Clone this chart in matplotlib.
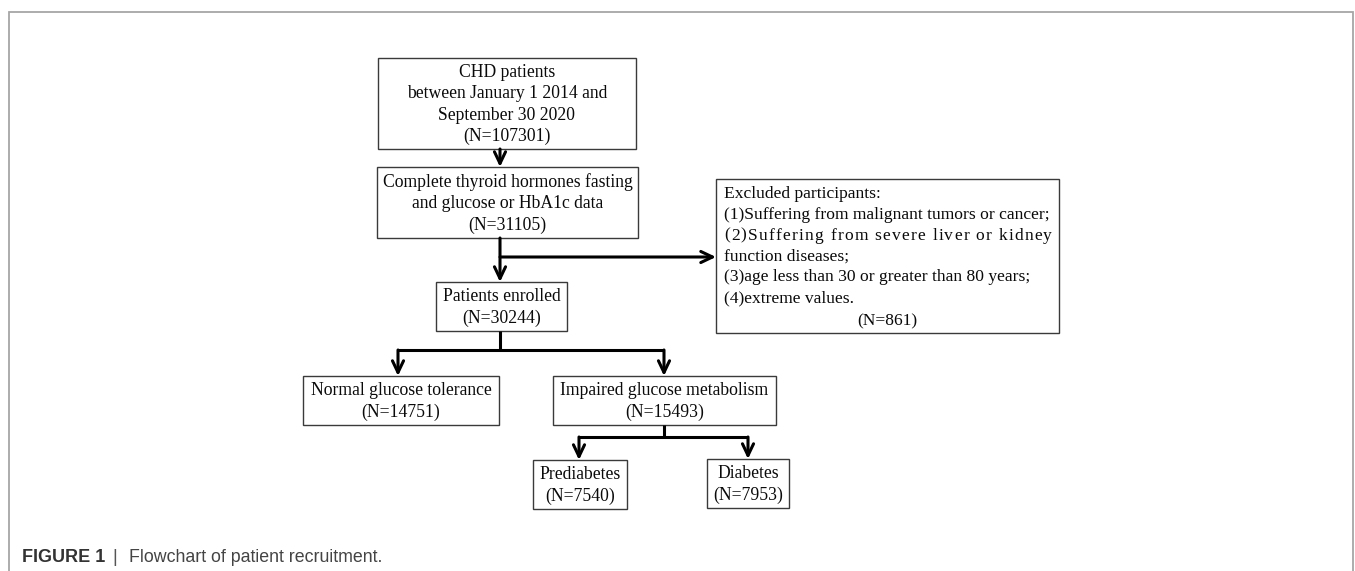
import matplotlib
matplotlib.use("Agg")
import matplotlib.pyplot as plt
from matplotlib.patches import Rectangle, FancyArrowPatch

W, H = 1355, 571

# flowchart content
box_labels = [
    ["CHD patients", "between January 1 2014 and", "September 30 2020"],
    ["Complete thyroid hormones fasting", "and glucose or HbA1c data"],
    ["Patients enrolled"],
    ["Normal glucose tolerance"],
    ["Impaired glucose metabolism"],
    ["Prediabetes"],
    ["Diabetes"],
]
box_counts = [107301, 31105, 30244, 14751, 15493, 7540, 7953]

excluded_lines = [
    "Excluded participants:",
    "(1)Suffering from malignant tumors or cancer;",
    "(2)Suffering from severe liver or kidney",
    "function diseases;",
    "(3)age less than 30 or greater than 80 years;",
    "(4)extreme values.",
]
excluded_count = 861

caption_bold = "FIGURE 1"
caption_text = "Flowchart of patient recruitment."

# layout in pixel coords: (left, top, right, bottom)
box_pos = [
    (378, 58, 636, 149),
    (377, 167, 638, 238),
    (436, 282, 567, 331),
    (303, 376, 499, 425),
    (553, 376, 776, 425),
    (533, 460, 627, 509),
    (707, 459, 789, 508),
]
excl_pos = (716, 179, 1059, 333)

serif = ["Liberation Serif", "DejaVu Serif"]
sans = ["Liberation Sans", "DejaVu Sans"]

fig = plt.figure(figsize=(W / 100, H / 100), dpi=100)
ax = fig.add_axes([0, 0, 1, 1])
ax.set_xlim(0, W)
ax.set_ylim(H, 0)
ax.axis("off")

# outer frame (left, top, right)
ax.plot([9, 9, 1353, 1353], [H, 12, 12, H], color="#a6a6a6", lw=1.3,
        solid_joinstyle="miter")


def draw_box(pos, lines, fs=12.7, spacing=21.5):
    l, t, r, b = pos
    ax.add_patch(Rectangle((l, t), r - l, b - t, fill=False,
                           edgecolor="#3a3a3a", lw=1.0))
    cx = (l + r) / 2
    cy = (t + b) / 2
    n = len(lines)
    for i, s in enumerate(lines):
        y = cy + (i - (n - 1) / 2) * spacing + 1
        ax.text(cx, y, s, ha="center", va="center", fontsize=fs,
                family=serif, color="#0a0a0a")


for pos, lab, cnt in zip(box_pos, box_labels, box_counts):
    draw_box(pos, lab + [f"(N={cnt})"])

# excluded box
l, t, r, b = excl_pos
ax.add_patch(Rectangle((l, t), r - l, b - t, fill=False,
                       edgecolor="#3a3a3a", lw=1.0))
fs_ex = 12.6
y0 = 194
step = 20.8
renderer = fig.canvas.get_renderer()


def text_width(s):
    t_ = ax.text(0, 0, s, fontsize=fs_ex, family=serif)
    w = t_.get_window_extent(renderer).width
    t_.remove()
    return w


for i, s in enumerate(excluded_lines):
    y = y0 + i * step
    if s.startswith("(2)"):
        # justified line: spread characters over the full width
        target = 1052 - 724
        natural = text_width(s)
        extra = (target - natural) / (len(s) - 1)
        wx = text_width("x")
        for k, ch in enumerate(s):
            if ch == " ":
                continue
            off = (text_width(s[:k] + "x") - wx) if k > 0 else 0
            ax.text(724 + off + k * extra, y, ch, ha="left", va="center",
                    fontsize=fs_ex, family=serif, color="#0a0a0a")
    else:
        ax.text(724, y, s, ha="left", va="center", fontsize=fs_ex,
                family=serif, color="#0a0a0a")
ax.text((l + r) / 2, y0 + len(excluded_lines) * step + 2.5,
        f"(N={excluded_count})", ha="center", va="center", fontsize=fs_ex,
        family=serif, color="#0a0a0a")

# connectors
lw = 2.2
col = "black"


def line(xs, ys):
    ax.plot(xs, ys, color=col, lw=lw, solid_capstyle="butt",
            solid_joinstyle="miter")


def arrow(x1, y1, x2, y2):
    ax.add_patch(FancyArrowPatch((x1, y1), (x2, y2),
                                 arrowstyle="->,head_length=0.42,head_width=0.2",
                                 mutation_scale=20, color=col, lw=lw,
                                 shrinkA=0, shrinkB=0))


arrow(500, 149, 500, 167)
arrow(500, 238, 500, 282)
arrow(500, 257, 716, 257)
line([500, 500], [331, 350])
line([398, 664], [350, 350])
arrow(398, 350, 398, 376)
arrow(664, 350, 664, 376)
line([664, 664], [425, 437])
line([579, 748], [437, 437])
arrow(579, 437, 579, 460)
arrow(748, 437, 748, 459)

# caption
ax.text(22, 557, caption_bold, ha="left", va="center", fontsize=13,
        family=sans, weight="bold", color="#333333")
ax.text(115, 557, "|", ha="center", va="center", fontsize=13,
        family=sans, color="#555555")
ax.text(129, 557, caption_text, ha="left", va="center", fontsize=12.8,
        family=sans, color="#444444")

fig.savefig("out.png", dpi=100)
